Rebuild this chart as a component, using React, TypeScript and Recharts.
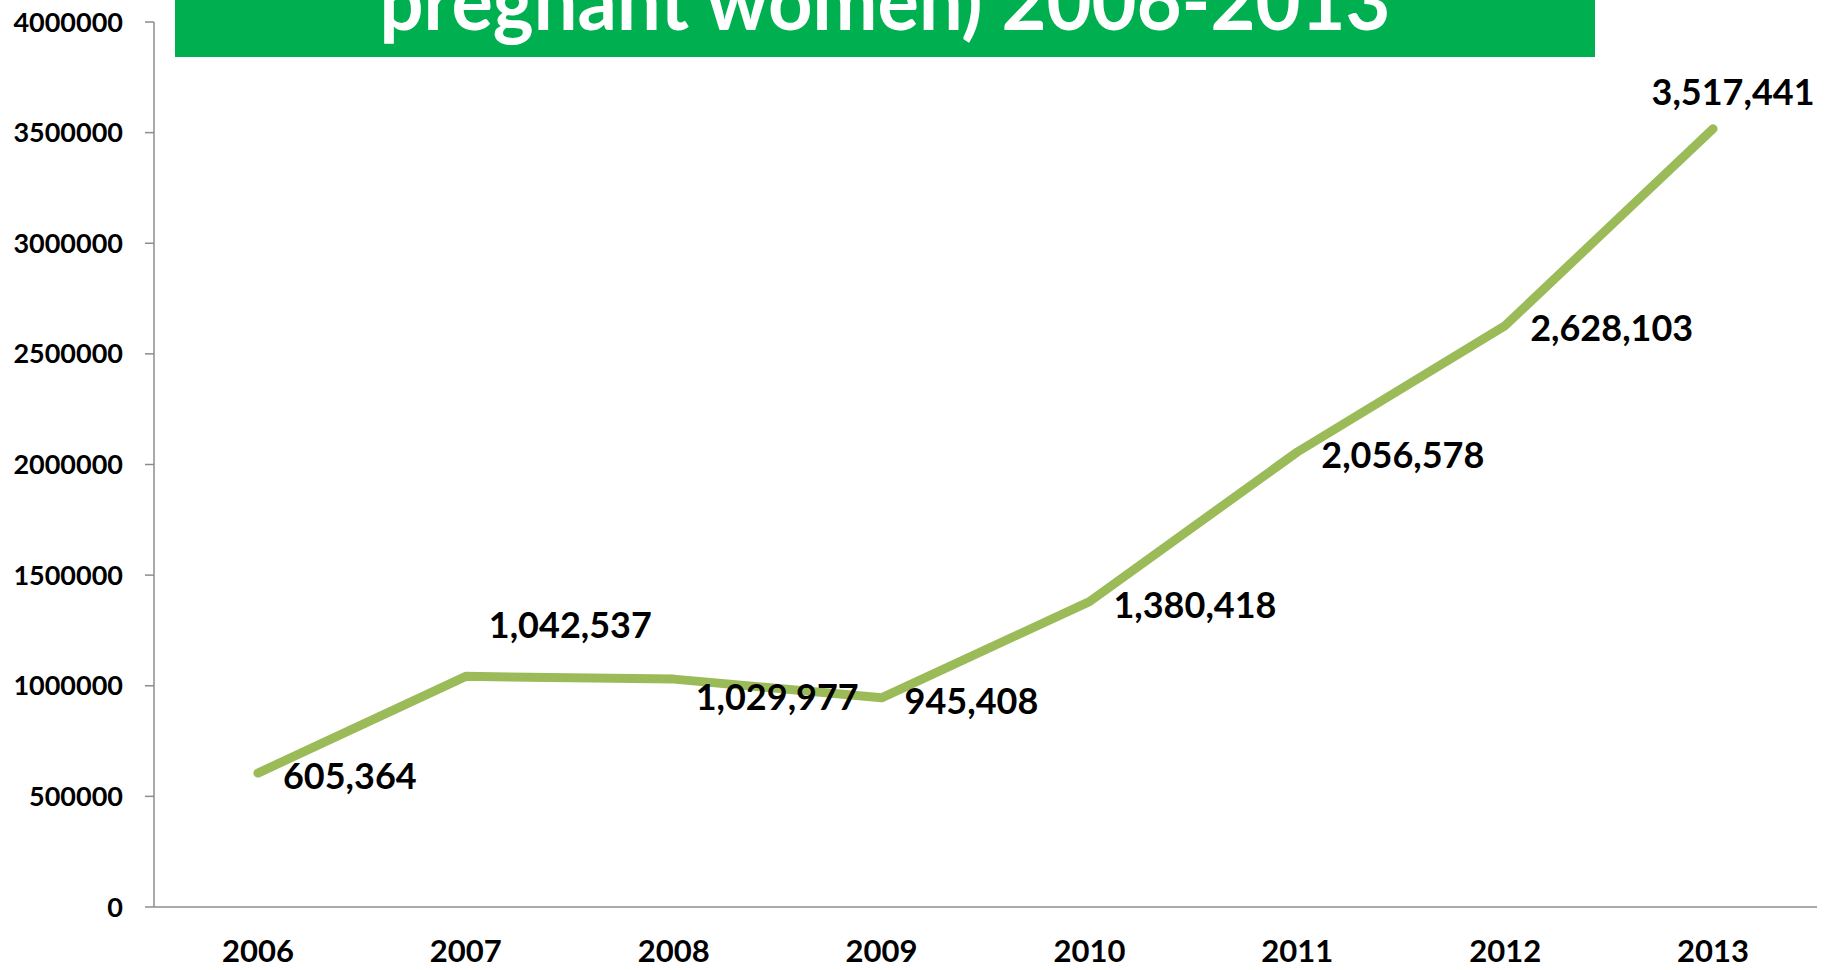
import React from "react"
import { LineChart, Line, XAxis, YAxis, LabelList } from "recharts"

// screening data (pregnant women), 2006-2013
const YEARS = ["2006", "2007", "2008", "2009", "2010", "2011", "2012", "2013"]
const SCREENED = [605364, 1042537, 1029977, 945408, 1380418, 2056578, 2628103, 3517441]
const Y_TICKS = [0, 500000, 1000000, 1500000, 2000000, 2500000, 3000000, 3500000, 4000000]
const TITLE = "pregnant women) 2006-2013"

// where each value label sits relative to its point
const LABEL_OFFSETS = [
  { dx: 25, dy: 3, anchor: "start" },
  { dx: 23, dy: -51, anchor: "start" },
  { dx: 22, dy: 18, anchor: "start" },
  { dx: 23, dy: 3, anchor: "start" },
  { dx: 24, dy: 3, anchor: "start" },
  { dx: 24, dy: 3, anchor: "start" },
  { dx: 25, dy: 3, anchor: "start" },
  { dx: 20, dy: -37, anchor: "middle" },
]

const FONT = "Lato, Calibri, sans-serif"
const AXIS_GREY = "#8c8c8c"
const CHART_W = 1831
const PLOT_W = CHART_W - 154 - 14
const HALF_CAT = PLOT_W / YEARS.length / 2

const data = YEARS.map((year, i) => ({ year, value: SCREENED[i] }))
const boundaries = YEARS.map((_, i) => i).concat(YEARS.length)

function ValueLabel(props: any) {
  const { x, y, value, index } = props
  const off = LABEL_OFFSETS[index] || { dx: 20, dy: 0, anchor: "start" }
  return (
    <text
      x={x + off.dx}
      y={y + off.dy}
      dy="0.36em"
      textAnchor={off.anchor}
      fill="#000"
      fontSize={36}
      fontWeight={700}
      fontFamily={FONT}
    >
      {Number(value).toLocaleString("en-US")}
    </text>
  )
}

export default function App() {
  return (
    <div style={{ position: "absolute", top: 0, left: 0, width: CHART_W, height: 970, overflow: "hidden", background: "#fff" }}>
      <LineChart width={CHART_W} height={970} data={data} margin={{ top: 22, right: 14, bottom: 0, left: 0 }}>
        {/* axis line + tick marks between the years */}
        <XAxis
          xAxisId="axis"
          type="number"
          domain={[0, YEARS.length]}
          ticks={boundaries}
          allowDataOverflow
          height={1}
          tick={false}
          tickSize={12}
          stroke={AXIS_GREY}
          strokeWidth={1.5}
        />
        {/* year labels */}
        <XAxis
          xAxisId="labels"
          dataKey="year"
          height={62}
          padding={{ left: HALF_CAT, right: HALF_CAT }}
          axisLine={false}
          tickLine={false}
          tickSize={0}
          tickMargin={32}
          interval={0}
          tick={{ fill: "#000", fontSize: 31, fontWeight: 700, fontFamily: FONT }}
        />
        <YAxis
          width={154}
          domain={[0, 4000000]}
          ticks={Y_TICKS}
          interval={0}
          tickSize={9}
          tickMargin={22}
          stroke={AXIS_GREY}
          strokeWidth={1.5}
          tick={{ fill: "#000", fontSize: 27, fontWeight: 700, fontFamily: FONT }}
        />
        <Line
          xAxisId="labels"
          type="linear"
          dataKey="value"
          stroke="#9BBB59"
          strokeWidth={9}
          strokeLinecap="round"
          strokeLinejoin="round"
          dot={false}
          activeDot={false}
          isAnimationActive={false}
        >
          <LabelList dataKey="value" content={ValueLabel} />
        </Line>
      </LineChart>
      <svg width={CHART_W} height={970} style={{ position: "absolute", top: 0, left: 0, pointerEvents: "none" }}>
        <rect x={175} y={-10} width={1420} height={67} fill="#00B050" />
        <text
          x={885}
          y={30}
          textAnchor="middle"
          fill="#fff"
          fontSize={80}
          fontWeight={700}
          fontFamily={FONT}
          textLength={1011}
          lengthAdjust="spacingAndGlyphs"
        >
          {TITLE}
        </text>
      </svg>
    </div>
  )
}
